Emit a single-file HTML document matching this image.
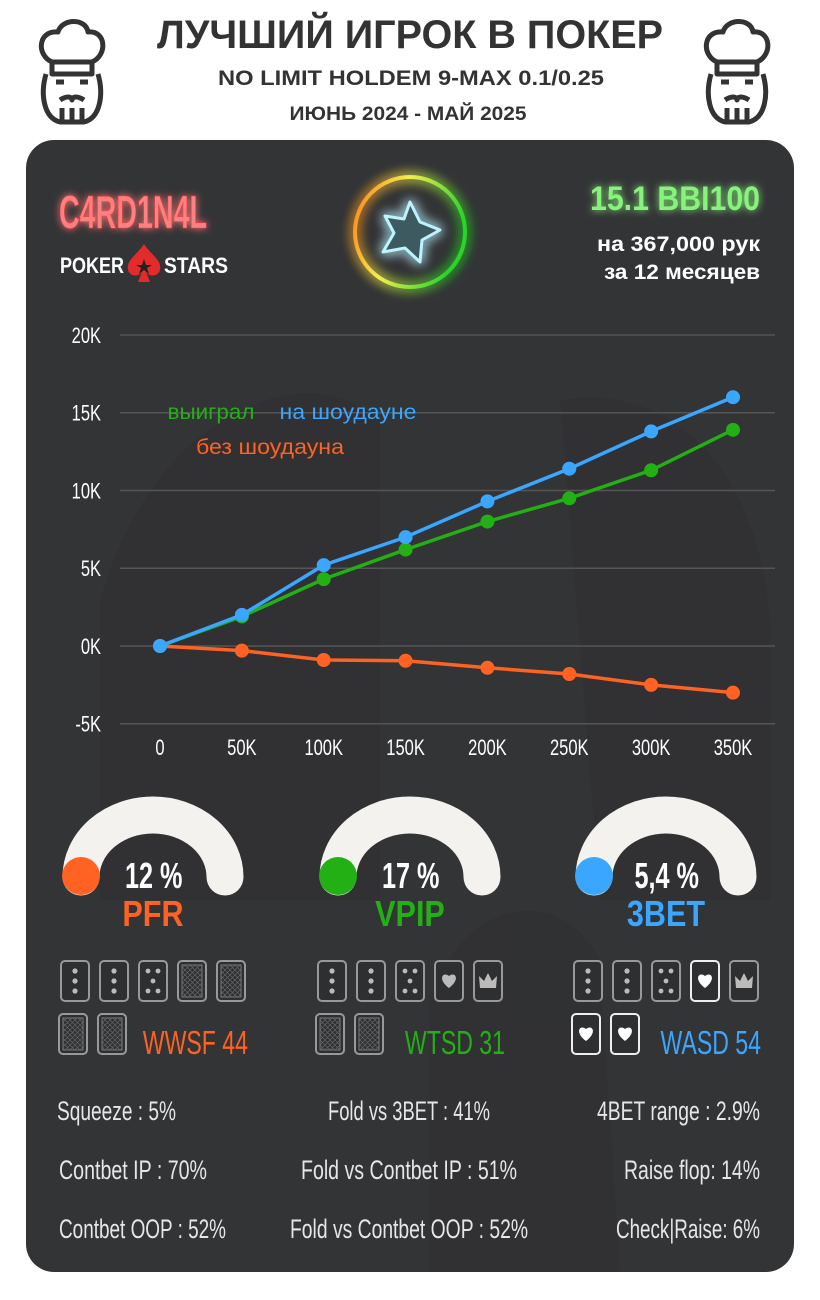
<!DOCTYPE html>
<html><head><meta charset="utf-8">
<style>
html,body{margin:0;padding:0;background:#fff;width:820px;height:1300px;overflow:hidden}
svg{display:block}
text{font-family:"Liberation Sans Narrow","Liberation Sans",sans-serif}
</style></head>
<body>
<svg id="root" width="820" height="1300" viewBox="0 0 820 1300">
<defs>
  <filter id="glowR" x="-30%" y="-50%" width="160%" height="200%"><feGaussianBlur stdDeviation="4" result="b"/><feMerge><feMergeNode in="b"/><feMergeNode in="SourceGraphic"/></feMerge></filter>
  <filter id="glowS" x="-50%" y="-50%" width="200%" height="200%"><feGaussianBlur stdDeviation="6" result="b"/><feMerge><feMergeNode in="b"/><feMergeNode in="b"/><feMergeNode in="SourceGraphic"/></feMerge></filter>
  <linearGradient id="ringG" x1="0" y1="0" x2="1" y2="0.3">
    <stop offset="0" stop-color="#ff7a1a"/><stop offset="0.45" stop-color="#f2ef4a"/><stop offset="1" stop-color="#2bd52b"/>
  </linearGradient>
  <pattern id="hatch" width="5" height="5" patternUnits="userSpaceOnUse"><path d="M0 0L5 5M5 0L0 5" stroke="#666" stroke-width="0.7"/></pattern>
</defs>

<g>
  <text x="410" y="48" text-anchor="middle" font-size="40" font-weight="bold" fill="#333" textLength="506" lengthAdjust="spacingAndGlyphs">ЛУЧШИЙ ИГРОК В ПОКЕР</text>
  <text x="411" y="85" text-anchor="middle" font-size="21" font-weight="bold" fill="#333" textLength="386" lengthAdjust="spacingAndGlyphs">NO LIMIT HOLDEM 9-MAX 0.1/0.25</text>
  <text x="408" y="120" text-anchor="middle" font-size="19" font-weight="bold" fill="#333" textLength="237" lengthAdjust="spacingAndGlyphs">ИЮНЬ 2024 - МАЙ 2025</text>
</g>
<g id="chefL" fill="none" stroke="#333" stroke-width="5" stroke-linejoin="round">
  <path d="M52 62 C36 55 38 30 58 32 C62 18 86 18 88 32 C106 30 108 55 92 62 Z"/>
  <path d="M52 62 L52 74 L92 74 L92 62"/>
  <path d="M46 74 C40 95 44 118 60 122 L84 122 C100 118 104 95 98 74"/>
  <path d="M56 82 L64 82 M80 82 L88 82 M60 100 C66 96 72 96 72 100 C72 96 78 96 84 100 M62 108 L62 120 M72 108 L72 122 M82 108 L82 120"/>
</g>
<use href="#chefL" transform="translate(665 0)"/>

<rect x="26" y="140" width="768" height="1132" rx="28" fill="#333436"/>
<g opacity="0.04" fill="#000">
  <path d="M100 600 C150 420 300 350 380 420 L380 900 L100 900Z"/>
  <path d="M430 1000 C460 900 560 880 600 960 L620 1272 L430 1272Z"/>
  <path d="M560 400 C680 380 760 480 770 620 L770 900 L600 900Z"/>
</g>

<text x="133" y="228" text-anchor="middle" font-size="46" font-weight="bold" fill="#ff8080" stroke="#ff3b3b" stroke-width="0.6" filter="url(#glowR)" textLength="148" lengthAdjust="spacingAndGlyphs">C4RD1N4L</text>
<g>
  <text x="60" y="273" font-size="22" font-weight="bold" fill="#fff" textLength="64" lengthAdjust="spacingAndGlyphs">POKER</text>
  <path d="M144 244 C136 256 126 260 128 270 C130 277 139 277 142 272 L138 282 L150 282 L146 272 C149 277 158 277 160 270 C162 260 152 256 144 244Z" fill="#e32b2b"/>
  <path d="M144 259 L146 265 L152 265 L147 268 L149 274 L144 270 L139 274 L141 268 L136 265 L142 265Z" fill="#222"/>
  <text x="164" y="273" font-size="22" font-weight="bold" fill="#fff" textLength="64" lengthAdjust="spacingAndGlyphs">STARS</text>
</g>
<g>
  <circle cx="410" cy="232" r="55" fill="none" stroke="url(#ringG)" stroke-width="4" filter="url(#glowS)"/>
  <path d="M410 202 L420 222 L440 230 L422 240 L420 262 L405 248 L383 252 L394 233 L385 216 L404 219Z" fill="#3d5a60" stroke="#bdf3ff" stroke-width="3" stroke-linejoin="round" filter="url(#glowS)"/>
</g>
<text x="760" y="210" text-anchor="end" font-size="34" font-weight="bold" fill="#86f37a" filter="url(#glowR)" textLength="170" lengthAdjust="spacingAndGlyphs">15.1 BBI100</text>
<text x="760" y="251" text-anchor="end" font-size="21" font-weight="bold" fill="#fff" textLength="163" lengthAdjust="spacingAndGlyphs">на 367,000 рук</text>
<text x="760" y="279" text-anchor="end" font-size="21" font-weight="bold" fill="#fff" textLength="156" lengthAdjust="spacingAndGlyphs">за  12 месяцев</text>

<g id="chart"></g>
<text x="211" y="419" text-anchor="middle" font-size="21" fill="#22b014" font-family="Liberation Sans" textLength="87" lengthAdjust="spacingAndGlyphs">выиграл</text>
<text x="348" y="419" text-anchor="middle" font-size="21" fill="#3aa6ff" font-family="Liberation Sans" textLength="137" lengthAdjust="spacingAndGlyphs">на шоудауне</text>
<text x="270" y="454" text-anchor="middle" font-size="21" fill="#ff6222" font-family="Liberation Sans" textLength="148" lengthAdjust="spacingAndGlyphs">без шоудауна</text>

<g id="gauges"></g>
<g id="cards"></g>
<g id="stats"></g>
</svg>
<script>
const NS='http://www.w3.org/2000/svg';
const xCats=[0,50,100,150,200,250,300,350];
const xTickLabels=['0','50K','100K','150K','200K','250K','300K','350K'];
const yTicks=[20000,15000,10000,5000,0,-5000];
const yTickLabels=['20K','15K','10K','5K','0K','-5K'];
const showdownWon=[0,2000,5200,7000,9300,11400,13800,16000];
const totalWon=[0,1900,4300,6200,8000,9500,11300,13900];
const nonShowdown=[0,-300,-900,-950,-1400,-1800,-2500,-3000];

function mk(tag,attrs,parent){const e=document.createElementNS(NS,tag);for(const k in attrs)e.setAttribute(k,attrs[k]);parent.appendChild(e);return e;}
const xs=v=>160+(v-0)*(733-160)/350;
const ys=v=>646-v*(646-335)/20000;
const chart=document.getElementById('chart');
yTicks.forEach((t,i)=>{
  const l=mk('line',{x1:120,x2:775,y1:ys(t),y2:ys(t),stroke:'#555',"stroke-width":1.5},chart);
  
  
  const tx=mk('text',{x:101,y:ys(t)+8,"text-anchor":'end',"font-size":22,fill:'#fff',transform:`translate(101 0) scale(0.75 1) translate(-101 0)`},chart);
  tx.textContent=yTickLabels[i];
  
  
});
xCats.forEach((c,i)=>{
  const x=xs(c);
  const tx=mk('text',{x:x,y:755,"text-anchor":'middle',"font-size":22,fill:'#fff',transform:`translate(${x} 0) scale(0.75 1) translate(${-x} 0)`},chart);
  tx.textContent=xTickLabels[i];
  
  
});
function series(vals,color,name){
  const p=mk('polyline',{points:vals.map((v,i)=>xs(xCats[i])+','+ys(v)).join(' '),fill:'none',stroke:color,"stroke-width":3.5},chart);
  
  
  vals.forEach((v,i)=>{
    const c=mk('circle',{cx:xs(xCats[i]),cy:ys(v),r:7,fill:color},chart);
    
    
  });
}
series(nonShowdown,'#ff6222','non-showdown');
series(totalWon,'#22b014','won');
series(showdownWon,'#3aa6ff','showdown');

const gaugeNames=['PFR','VPIP','3BET'];
const gaugeValues=['12 %','17 %','5,4 %'];
const gaugeColors=['#ff6222','#22b014','#3aa6ff'];
const gauges=document.getElementById('gauges');
[153,410,666].forEach((cx,i)=>{
  const a=mk('path',{d:`M${cx-72} 877 A72 62 0 1 1 ${cx+72} 877`,fill:'none',stroke:'#f3f2ee',"stroke-width":37,"stroke-linecap":'round'},gauges);
  
  
  const d=mk('circle',{cx:cx-72,cy:876,r:19,fill:gaugeColors[i]},gauges);
  
  
  const v=mk('text',{x:cx+1,y:888,"text-anchor":'middle',"font-size":36,"font-weight":'bold',fill:'#fff',transform:`translate(${cx} 0) scale(0.7 1) translate(${-cx} 0)`},gauges);
  v.textContent=gaugeValues[i];
  
  
  const n=mk('text',{x:cx,y:926,"text-anchor":'middle',"font-size":36,"font-weight":'bold',fill:gaugeColors[i],transform:`translate(${cx} 0) scale(0.85 1) translate(${-cx} 0)`},gauges);
  n.textContent=gaugeNames[i];
  
  
});

const cards=document.getElementById('cards');
const groups=[
 {x:61,types:['3','3','5','b','b'],row2:['b','b'],label:'WWSF 44',color:'#ff6222'},
 {x:318,types:['3','3','5','h','k'],row2:['b','b'],label:'WTSD 31',color:'#22b014'},
 {x:574,types:['3','3','5','H','k'],row2:['H','H'],label:'WASD 54',color:'#3aa6ff'}];
function card(x,y,t){
  const g=mk('g',{},cards);
  
  
  const white=t==='H';
  mk('rect',{x:x,y:y,width:28,height:40,rx:4,fill:'#2e2f31',stroke:white?'#eee':'#999',"stroke-width":2},g);
  const cx=x+14;
  if(t==='b'){mk('rect',{x:x+4,y:y+4,width:20,height:32,fill:'url(#hatch)',stroke:'#777',"stroke-width":1},g);}
  else if(t==='3'){[10,20,30].forEach(dy=>mk('circle',{cx:cx,cy:y+dy,r:2.6,fill:'#bbb'},g));}
  else if(t==='5'){[[-5,10],[5,10],[0,20],[-5,30],[5,30]].forEach(p=>mk('circle',{cx:cx+p[0],cy:y+p[1],r:2.4,fill:'#bbb'},g));}
  else if(t==='h'||t==='H'){mk('path',{d:`M${cx} ${y+27} C${cx-12} ${y+18} ${cx-6} ${y+10} ${cx} ${y+15} C${cx+6} ${y+10} ${cx+12} ${y+18} ${cx} ${y+27}Z`,fill:white?'#fff':'#bbb'},g);}
  else if(t==='k'){mk('path',{d:`M${cx-8} ${y+27} L${cx-9} ${y+15} L${cx-4} ${y+20} L${cx} ${y+12} L${cx+4} ${y+20} L${cx+9} ${y+15} L${cx+8} ${y+27}Z`,fill:'#bbb'},g);}
}
groups.forEach(gr=>{
  gr.types.forEach((t,i)=>card(gr.x+i*39,961,t));
  gr.row2.forEach((t,i)=>card(gr.x+i*39-2,1014,t));
  const ex=gr.x+187;
  const l=mk('text',{x:ex,y:1054,"text-anchor":'end',"font-size":33,fill:gr.color,transform:`translate(${ex} 0) scale(0.7 1) translate(${-ex} 0)`},cards);
  l.textContent=gr.label;
  
  
});

const statsText=[
 ['Squeeze : 5%','Fold vs 3BET : 41%','4BET range : 2.9%'],
 ['Contbet IP : 70%','Fold vs Contbet IP : 51%','Raise flop: 14%'],
 ['Contbet OOP : 52%','Fold vs Contbet OOP : 52%','Check|Raise: 6%']];
const statsBox=[[[57,119],[328,162],[597,163]],[[59,148],[301,216],[624,136]],[[59,167],[290,238],[616,144]]];
const st=document.getElementById('stats');
statsText.forEach((row,r)=>row.forEach((s,c)=>{
  const b=statsBox[r][c];
  const t=mk('text',{x:b[0],y:1120+r*59,"font-size":27,fill:'#e6e6e6',textLength:b[1],lengthAdjust:'spacingAndGlyphs'},st);
  t.textContent=s;
  
  
}));
</script>
</body></html>
